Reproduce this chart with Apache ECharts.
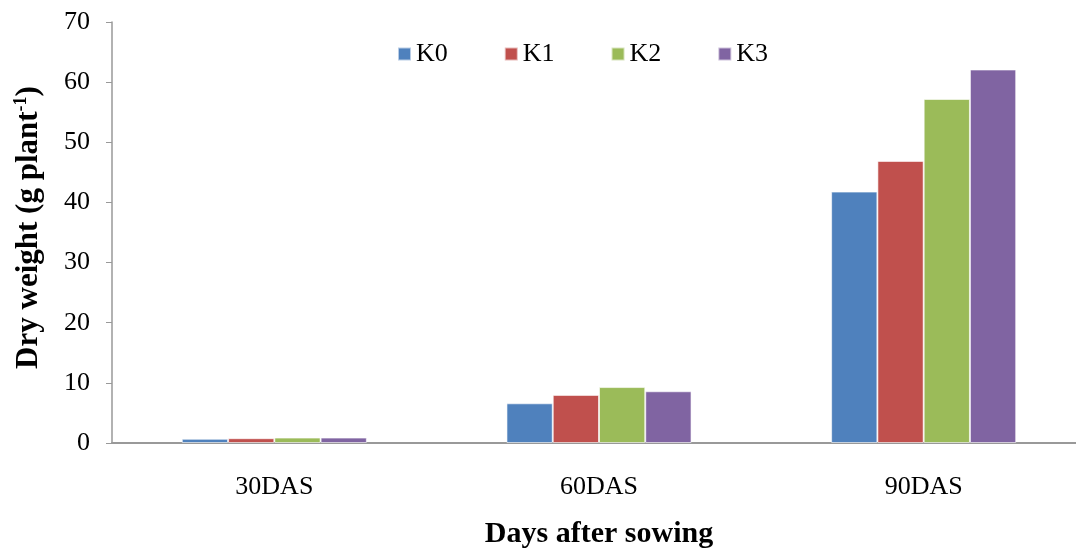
<!DOCTYPE html>
<html>
<head>
<meta charset="utf-8">
<script src="https://cdn.jsdelivr.net/npm/echarts@6/dist/echarts.min.js"></script>
<style>
html,body{margin:0;padding:0;background:#fff;}
#c{width:1076px;height:550px;}
</style>
</head>
<body>
<div id="c"></div>
<script>
const categories = ['30DAS', '60DAS', '90DAS'];
const seriesNames = ['K0', 'K1', 'K2', 'K3'];
const K0 = [0.7, 6.6, 41.8];
const K1 = [0.8, 8.0, 46.9];
const K2 = [0.9, 9.3, 57.2];
const K3 = [0.9, 8.6, 62.1];
const colors = ['#4F81BD', '#C0504D', '#9BBB59', '#8064A2'];
const seriesValues = [K0, K1, K2, K3];

const font = 'Liberation Serif, Times New Roman, serif';
const chart = echarts.init(document.getElementById('c'));
chart.setOption({
  animation: false,
  backgroundColor: '#fff',
  textStyle: { fontFamily: font },
  legend: {
    top: 36,
    left: 392,
    itemWidth: 13,
    itemHeight: 13,
    itemGap: 56,
    icon: 'rect',
    textStyle: { fontFamily: font, fontSize: 26, color: '#000', padding: [2, 0, 0, 0] },
    data: seriesNames
  },
  grid: { left: 112, right: -10, top: 22, bottom: 107, containLabel: false, outerBoundsMode: 'none' },
  xAxis: {
    type: 'category',
    data: categories,
    axisLine: { lineStyle: { color: '#999', width: 2 } },
    axisTick: { show: false },
    axisLabel: { fontFamily: font, fontSize: 26, color: '#000', margin: 31 },
    name: 'Days after sowing',
    nameLocation: 'middle',
    nameGap: 76,
    nameTextStyle: { fontFamily: font, fontSize: 30, fontWeight: 'bold', color: '#000' }
  },
  yAxis: {
    type: 'value',
    min: 0, max: 70, interval: 10,
    splitLine: { show: false },
    axisLine: { show: true, lineStyle: { color: '#999', width: 1.5 } },
    axisTick: { show: true, length: 6, lineStyle: { color: '#999' } },
    axisLabel: { fontFamily: font, fontSize: 26, color: '#000', margin: 22 },
    name: '{a|Dry weight (g plant}{s|-1}{a|)}',
    nameLocation: 'middle',
    nameGap: 66,
    nameRotate: 90,
    nameTextStyle: {
      padding: [0, 0, 0, 10],
      rich: {
        a: { fontFamily: font, fontSize: 31, fontWeight: 'bold', color: '#000', lineHeight: 34 },
        s: { fontFamily: font, fontSize: 18, fontWeight: 'bold', color: '#000', verticalAlign: 'top', lineHeight: 34, padding: [0, 0, 12, 0] }
      }
    }
  },
  series: seriesValues.map((vals, i) => ({
    name: seriesNames[i],
    type: 'bar',
    data: vals,
    barGap: '0%',
    barCategoryGap: '43%',
    itemStyle: { color: colors[i], borderColor: 'rgba(255,255,255,0.6)', borderWidth: 1 }
  }))
});
</script>
</body>
</html>
